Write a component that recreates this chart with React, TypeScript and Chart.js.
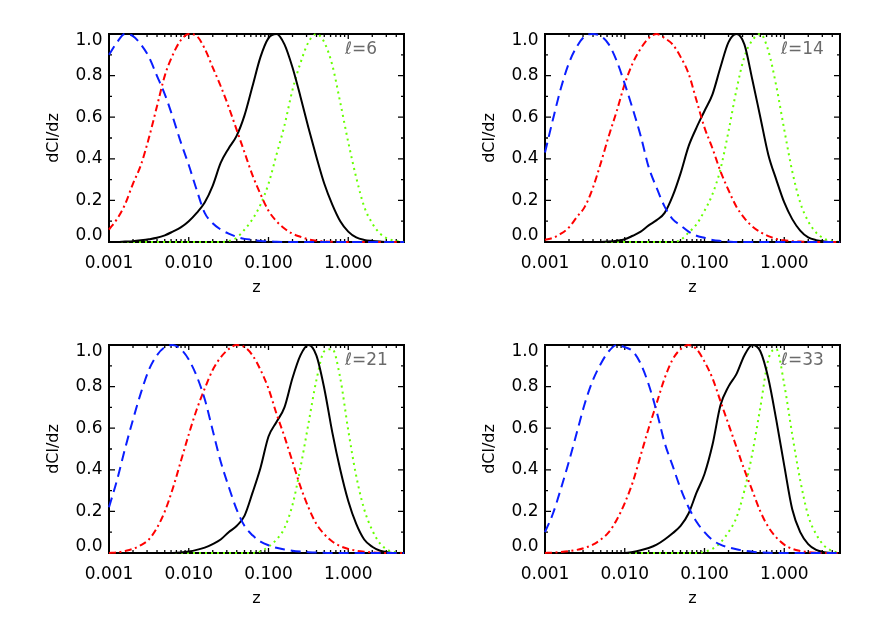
import React, { useEffect, useRef } from 'react';
import Chart from 'chart.js/auto';

Chart.defaults.font.family = '"DejaVu Sans", sans-serif';

// log10(z) sample grid shared by every curve
const logZ = [
  -3.0, -2.9, -2.8, -2.7, -2.6, -2.5, -2.4, -2.3, -2.2, -2.1,
  -2.0, -1.9, -1.8, -1.7, -1.6, -1.5, -1.4, -1.3, -1.2, -1.1,
  -1.0, -0.9, -0.8, -0.7, -0.6, -0.5, -0.4, -0.3, -0.2, -0.1,
  0.0, 0.1, 0.2, 0.3, 0.4, 0.5, 0.6, 0.7,
];

const xTickValues = [0.001, 0.01, 0.1, 1];
const yTickValues = [0, 0.2, 0.4, 0.6, 0.8, 1.0];

// l = 6
const blue6 = [0.90, 0.96, 1.00, 0.99, 0.95, 0.89, 0.80, 0.71, 0.60, 0.48, 0.37, 0.25, 0.14, 0.09, 0.06, 0.04, 0.025, 0.015, 0.01, 0.005, 0.003, 0.001, 0, 0, 0, 0, 0, 0, 0, 0, 0, 0, 0, 0, 0, 0, 0, 0];
const red6 = [0.06, 0.11, 0.18, 0.28, 0.37, 0.50, 0.65, 0.80, 0.90, 0.97, 1.00, 0.99, 0.93, 0.84, 0.75, 0.65, 0.54, 0.43, 0.32, 0.23, 0.15, 0.10, 0.065, 0.04, 0.025, 0.013, 0.006, 0.003, 0.001, 0, 0, 0, 0, 0, 0, 0, 0, 0];
const black6 = [0, 0, 0.002, 0.004, 0.008, 0.013, 0.02, 0.032, 0.05, 0.07, 0.10, 0.14, 0.19, 0.27, 0.38, 0.45, 0.51, 0.61, 0.75, 0.89, 0.98, 1.00, 0.95, 0.84, 0.70, 0.55, 0.41, 0.28, 0.18, 0.10, 0.05, 0.022, 0.01, 0.005, 0.002, 0, 0, 0];
const green6 = [0, 0, 0, 0, 0, 0, 0, 0, 0, 0, 0, 0, 0, 0, 0, 0.005, 0.02, 0.06, 0.11, 0.18, 0.28, 0.42, 0.56, 0.73, 0.86, 0.96, 1.00, 0.96, 0.85, 0.67, 0.48, 0.31, 0.17, 0.09, 0.04, 0.015, 0.005, 0];

// l = 14
const blue14 = [0.43, 0.59, 0.74, 0.86, 0.94, 0.99, 1.00, 0.99, 0.95, 0.87, 0.76, 0.64, 0.51, 0.36, 0.26, 0.17, 0.11, 0.08, 0.05, 0.03, 0.02, 0.01, 0.005, 0.002, 0, 0, 0, 0, 0, 0, 0, 0, 0, 0, 0, 0, 0, 0];
const red14 = [0.01, 0.02, 0.04, 0.07, 0.12, 0.17, 0.26, 0.38, 0.51, 0.63, 0.76, 0.86, 0.93, 0.98, 1.00, 0.98, 0.95, 0.89, 0.81, 0.68, 0.55, 0.45, 0.34, 0.25, 0.17, 0.115, 0.075, 0.048, 0.028, 0.015, 0.008, 0.004, 0.002, 0, 0, 0, 0, 0];
const black14 = [0, 0, 0, 0, 0, 0, 0, 0, 0.002, 0.006, 0.013, 0.03, 0.05, 0.08, 0.105, 0.14, 0.22, 0.33, 0.46, 0.55, 0.63, 0.71, 0.84, 0.96, 1.00, 0.95, 0.78, 0.60, 0.42, 0.30, 0.19, 0.11, 0.055, 0.022, 0.009, 0.003, 0, 0];
const green14 = [0, 0, 0, 0, 0, 0, 0, 0, 0, 0, 0, 0, 0, 0, 0, 0, 0, 0.01, 0.045, 0.085, 0.15, 0.23, 0.35, 0.53, 0.73, 0.89, 0.97, 1.00, 0.92, 0.75, 0.54, 0.34, 0.19, 0.10, 0.045, 0.016, 0.004, 0];

// l = 21
const blue21 = [0.22, 0.35, 0.50, 0.64, 0.77, 0.88, 0.95, 0.99, 1.00, 0.98, 0.93, 0.85, 0.74, 0.59, 0.44, 0.32, 0.21, 0.13, 0.085, 0.055, 0.037, 0.025, 0.017, 0.011, 0.007, 0.004, 0.002, 0.001, 0, 0, 0, 0, 0, 0, 0, 0, 0, 0];
const red21 = [0, 0.003, 0.01, 0.02, 0.038, 0.065, 0.12, 0.20, 0.31, 0.44, 0.57, 0.69, 0.79, 0.88, 0.94, 0.98, 1.00, 0.99, 0.95, 0.88, 0.79, 0.67, 0.56, 0.44, 0.32, 0.22, 0.14, 0.09, 0.055, 0.033, 0.02, 0.011, 0.006, 0.003, 0.001, 0, 0, 0];
const black21 = [0, 0, 0, 0, 0, 0, 0, 0, 0, 0.002, 0.007, 0.015, 0.026, 0.043, 0.065, 0.10, 0.13, 0.18, 0.29, 0.41, 0.56, 0.63, 0.70, 0.84, 0.95, 1.00, 0.95, 0.79, 0.58, 0.40, 0.25, 0.14, 0.065, 0.03, 0.011, 0.003, 0, 0];
const green21 = [0, 0, 0, 0, 0, 0, 0, 0, 0, 0, 0, 0, 0, 0, 0, 0, 0, 0, 0, 0.008, 0.03, 0.065, 0.12, 0.23, 0.41, 0.62, 0.83, 0.97, 0.98, 0.84, 0.59, 0.37, 0.21, 0.11, 0.045, 0.014, 0.003, 0];

// l = 33
const blue33 = [0.10, 0.19, 0.31, 0.44, 0.58, 0.72, 0.83, 0.91, 0.97, 1.00, 0.99, 0.97, 0.91, 0.81, 0.68, 0.53, 0.42, 0.31, 0.22, 0.15, 0.10, 0.062, 0.04, 0.027, 0.018, 0.011, 0.006, 0.003, 0.001, 0, 0, 0, 0, 0, 0, 0, 0, 0];
const red33 = [0, 0.002, 0.005, 0.009, 0.015, 0.025, 0.04, 0.065, 0.10, 0.16, 0.24, 0.34, 0.47, 0.60, 0.72, 0.84, 0.93, 0.98, 1.00, 0.98, 0.92, 0.84, 0.73, 0.62, 0.51, 0.40, 0.30, 0.20, 0.125, 0.075, 0.04, 0.02, 0.01, 0.004, 0.001, 0, 0, 0];
const black33 = [0, 0, 0, 0, 0, 0, 0, 0, 0, 0, 0, 0.005, 0.013, 0.024, 0.04, 0.065, 0.095, 0.13, 0.19, 0.29, 0.38, 0.52, 0.71, 0.80, 0.86, 0.95, 1.00, 0.97, 0.84, 0.64, 0.42, 0.21, 0.10, 0.043, 0.015, 0.004, 0, 0];
const green33 = [0, 0, 0, 0, 0, 0, 0, 0, 0, 0, 0, 0, 0, 0, 0, 0, 0, 0, 0, 0, 0.006, 0.02, 0.05, 0.10, 0.17, 0.30, 0.48, 0.70, 0.93, 0.98, 0.81, 0.57, 0.35, 0.18, 0.09, 0.035, 0.01, 0];

interface PanelData {
  label: string;
  blue: number[];
  red: number[];
  black: number[];
  green: number[];
}

const panels: PanelData[] = [
  { label: 'ℓ=6', blue: blue6, red: red6, black: black6, green: green6 },
  { label: 'ℓ=14', blue: blue14, red: red14, black: black14, green: green14 },
  { label: 'ℓ=21', blue: blue21, red: red21, black: black21, green: green21 },
  { label: 'ℓ=33', blue: blue33, red: red33, black: black33, green: green33 },
];

const toPoints = (vals: number[]) => vals.map((v, i) => ({ x: Math.pow(10, logZ[i]), y: v }));

// IDL style box with inward ticks, y labels and the l= tag
const idlFrame = {
  id: 'idlFrame',
  beforeDatasetsDraw(chart: any, _args: any, opts: any) {
    const { ctx, chartArea } = chart;
    const { left, right, top, bottom } = chartArea;
    const x = chart.scales.x;
    const y = chart.scales.y;
    ctx.save();
    ctx.strokeStyle = '#000';
    ctx.lineWidth = 1.3;
    ctx.beginPath();
    // y ticks every 0.1, major every 0.2
    for (let i = 0; i <= 10; i++) {
      const py = y.getPixelForValue(i / 10);
      const len = i % 2 === 0 ? 6 : 3;
      ctx.moveTo(left, py); ctx.lineTo(left + len, py);
      ctx.moveTo(right, py); ctx.lineTo(right - len, py);
    }
    // log x ticks
    for (let d = -3; d <= 0; d++) {
      for (let k = 1; k <= 9; k++) {
        const v = k * Math.pow(10, d);
        if (v > x.max) continue;
        const px = x.getPixelForValue(v);
        const len = k === 1 ? 5 : 3;
        ctx.moveTo(px, bottom); ctx.lineTo(px, bottom - len);
        ctx.moveTo(px, top); ctx.lineTo(px, top + len);
      }
    }
    ctx.stroke();
    ctx.lineWidth = 2;
    ctx.strokeRect(left, top, right - left, bottom - top);

    ctx.fillStyle = '#000';
    ctx.font = '17px "DejaVu Sans"';
    ctx.textAlign = 'right';
    ctx.textBaseline = 'middle';
    yTickValues.forEach((v) => {
      const py = Math.min(Math.max(y.getPixelForValue(v), top + 7), bottom - 6);
      ctx.fillText(v.toFixed(1), left - 6.5, py);
    });

    ctx.fillStyle = '#6a6a6a';
    ctx.font = '17px "DejaVu Sans"';
    ctx.textAlign = 'left';
    ctx.fillText(opts.label, right - 59, top + 16);
    ctx.restore();
  },
};

const Panel: React.FC<{ data: PanelData; left: number; top: number }> = ({ data, left, top }) => {
  const canvasRef = useRef<HTMLCanvasElement | null>(null);

  useEffect(() => {
    if (!canvasRef.current) return;
    const chart = new Chart(canvasRef.current, {
      type: 'line',
      data: {
        datasets: [
          {
            label: 'dashed',
            data: toPoints(data.blue),
            borderColor: '#0a1eff',
            borderWidth: 2,
            borderDash: [10, 6],
          },
          {
            label: 'dash-dot',
            data: toPoints(data.red),
            borderColor: '#ff0000',
            borderWidth: 2,
            borderDash: [7, 3.5, 2, 3.5],
          },
          {
            label: 'solid',
            data: toPoints(data.black),
            borderColor: '#000000',
            borderWidth: 2,
          },
          {
            label: 'dotted',
            data: toPoints(data.green),
            borderColor: '#66ff00',
            borderWidth: 2,
            borderDash: [2, 4],
          },
        ],
      },
      options: {
        responsive: false,
        animation: false,
        events: [],
        layout: { padding: { top: 34, right: 32, bottom: 0, left: 0 } },
        elements: {
          point: { radius: 0 },
          line: { cubicInterpolationMode: 'monotone', fill: false },
        },
        datasets: { line: { clip: 2 } } as any,
        plugins: {
          legend: { display: false },
          tooltip: { enabled: false },
          idlFrame: { label: data.label },
        } as any,
        scales: {
          x: {
            type: 'logarithmic',
            min: 0.001,
            max: 5,
            grid: { display: false, drawTicks: false },
            border: { display: false },
            afterBuildTicks: (s: any) => {
              s.ticks = xTickValues.map((v) => ({ value: v }));
            },
            afterFit: (s: any) => {
              s.height = 69;
            },
            ticks: {
              autoSkip: false,
              maxRotation: 0,
              padding: 11,
              color: '#000',
              font: { size: 17 },
              callback: (v: any) => Number(v).toFixed(3),
            },
            title: {
              display: true,
              text: 'z',
              color: '#000',
              font: { size: 16 },
              padding: { top: 0, bottom: 14 },
            },
          },
          y: {
            min: 0,
            max: 1,
            grid: { display: false, drawTicks: false },
            border: { display: false },
            ticks: { display: false, stepSize: 0.2 },
            afterFit: (s: any) => {
              s.width = 109;
            },
            title: {
              display: true,
              text: 'dCl/dz',
              color: '#000',
              font: { size: 16 },
              padding: { top: 44, bottom: 0 },
            },
          },
        },
      },
      plugins: [idlFrame],
    });
    return () => chart.destroy();
  }, [data]);

  return (
    <div style={{ position: 'absolute', left, top, width: 436, height: 311 }}>
      <canvas ref={canvasRef} width={436} height={311} style={{ width: 436, height: 311 }} />
    </div>
  );
};

export default function App() {
  return (
    <div style={{ position: 'absolute', left: 0, top: 0, width: 872, height: 623, background: '#fff' }}>
      <Panel data={panels[0]} left={0} top={0} />
      <Panel data={panels[1]} left={436} top={0} />
      <Panel data={panels[2]} left={0} top={311} />
      <Panel data={panels[3]} left={436} top={311} />
    </div>
  );
}
